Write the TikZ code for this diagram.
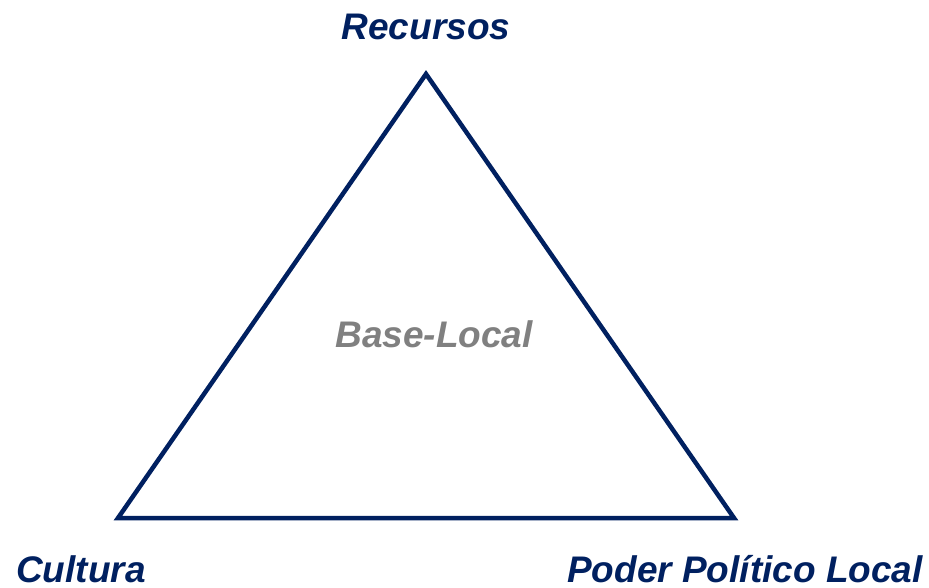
\documentclass[tikz,border=0pt]{standalone}
\usepackage{fontspec}
\setmainfont{Liberation Sans}
\usepackage{xcolor}
\usepackage{tikz}
\usetikzlibrary{positioning}
\definecolor{navyLine}{RGB}{0,32,96}
\definecolor{grayText}{RGB}{128,128,128}
\tikzstyle{cornerLabel} = [text=navyLine, font=\fontsize{37}{44}\selectfont\bfseries\itshape, inner sep=0pt, anchor=base]
\tikzstyle{centerLabel} = [text=grayText, font=\fontsize{37}{44}\selectfont\bfseries\itshape, inner sep=0pt, anchor=base]
\tikzstyle{edge} = [draw=navyLine, line width=4.5pt, line join=miter]

\begin{document}
\begin{tikzpicture}[x=1pt, y=-1pt]
                            \useasboundingbox (0,0) rectangle (929,588);
                            \coordinate (apex) at (426,74);
                            \coordinate (leftCorner) at (118,518);
                            \coordinate (rightCorner) at (734,518);
                            \draw [edge] (apex) -- (leftCorner) -- (rightCorner) -- cycle;
                            \node (recursos) [cornerLabel] at (426,40) {Recursos};
                            \node (base) [centerLabel] at (434,347) {Base-Local};
                            \node (cultura) [cornerLabel] at (81,582) {Cultura};
                            \node (poder) [cornerLabel] at (745,582) {Poder Político Local};
                        \end{tikzpicture}
\end{document}
